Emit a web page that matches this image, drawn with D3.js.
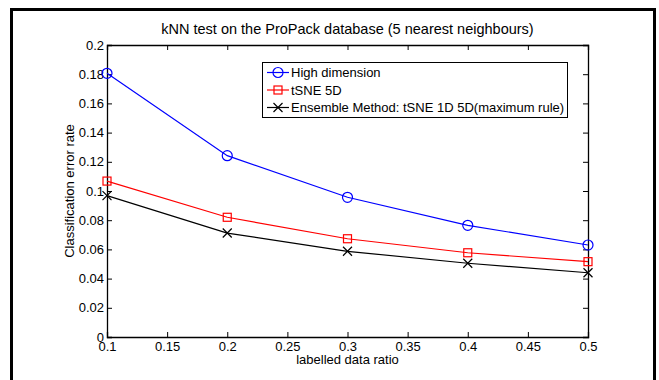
<!DOCTYPE html>
<html>
<head>
<meta charset="utf-8">
<script src="https://cdn.jsdelivr.net/npm/d3@7"></script>
<style>
  body { margin: 0; background: #fff; }
  text { font-family: "Liberation Sans", Arial, sans-serif; }
</style>
</head>
<body>
<div id="chart"></div>
<script>
// data
const ratios = [0.1, 0.2, 0.3, 0.4, 0.5];
const highDim = [0.1806, 0.1242, 0.0957, 0.0765, 0.0630];
const tsne5d = [0.1068, 0.0820, 0.0673, 0.0577, 0.0516];
const ensemble = [0.0968, 0.0712, 0.0587, 0.0505, 0.0440];
const xTicks = [0.1, 0.15, 0.2, 0.25, 0.3, 0.35, 0.4, 0.45, 0.5];
const yTicks = [0, 0.02, 0.04, 0.06, 0.08, 0.1, 0.12, 0.14, 0.16, 0.18, 0.2];

const series = [
    { name: "High dimension", values: highDim, color: "#0000ff", marker: "circle" },
    { name: "tSNE 5D", values: tsne5d, color: "#ff0000", marker: "square" },
    { name: "Ensemble Method: tSNE 1D 5D(maximum rule)", values: ensemble, color: "#000000", marker: "cross" }
];

const W = 659, H = 380;
const margin = { top: 45, right: 71, bottom: 43, left: 107 };
const width = W - margin.left - margin.right;
const height = H - margin.top - margin.bottom;
const fontSize = 13;

const svg = d3.select("#chart").append("svg")
    .attr("width", W)
    .attr("height", H);

// outer frame (no bottom edge in the reference)
svg.append("path")
    .attr("d", `M11.5,${H} V9.5 H654.5 V${H}`)
    .attr("fill", "none")
    .attr("stroke", "#000")
    .attr("stroke-width", 3);

const x = d3.scaleLinear().domain([0.1, 0.5]).range([0, width]);
const y = d3.scaleLinear().domain([0, 0.2]).range([height, 0]);

const g = svg.append("g")
    .attr("transform", `translate(${margin.left},${margin.top})`);

const fmt = d => String(+d.toFixed(2));

// axes, ticks point inward like matlab
const tickLen = 5;
g.append("g")
    .attr("transform", `translate(0,${height})`)
    .call(d3.axisBottom(x).tickValues(xTicks).tickSize(-tickLen).tickPadding(5).tickFormat(fmt));
g.append("g")
    .call(d3.axisTop(x).tickValues(xTicks).tickSize(-tickLen).tickFormat(""));
g.append("g")
    .call(d3.axisLeft(y).tickValues(yTicks).tickSize(-tickLen).tickPadding(3).tickFormat(fmt));
g.append("g")
    .attr("transform", `translate(${width},0)`)
    .call(d3.axisRight(y).tickValues(yTicks).tickSize(-tickLen).tickFormat(""));

g.selectAll(".domain").attr("stroke", "#000").attr("stroke-width", 1.3);
g.selectAll(".tick line").attr("stroke", "#000");
g.selectAll(".tick text").attr("font-size", fontSize).attr("fill", "#000")
    .attr("font-family", "Liberation Sans, Arial, sans-serif");

// lines
const line = d3.line()
    .x((d, i) => x(ratios[i]))
    .y(d => y(d));

function drawMarker(sel, type, color) {
    if (type === "circle") {
        sel.append("circle").attr("r", 5).attr("fill", "none").attr("stroke", color).attr("stroke-width", 1.2);
    } else if (type === "square") {
        sel.append("rect").attr("x", -4).attr("y", -4).attr("width", 8).attr("height", 8)
            .attr("fill", "none").attr("stroke", color).attr("stroke-width", 1.2);
    } else {
        sel.append("path").attr("d", "M-4.5,-4.5L4.5,4.5M-4.5,4.5L4.5,-4.5")
            .attr("stroke", color).attr("stroke-width", 1.2);
    }
}

series.forEach(s => {
    g.append("path")
        .datum(s.values)
        .attr("d", line)
        .attr("fill", "none")
        .attr("stroke", s.color)
        .attr("stroke-width", 1.2);
    g.selectAll(null)
        .data(s.values)
        .enter()
        .append("g")
        .attr("transform", (d, i) => `translate(${x(ratios[i])},${y(d)})`)
        .each(function () { drawMarker(d3.select(this), s.marker, s.color); });
});

// title and axis labels
svg.append("text")
    .attr("x", margin.left + width / 2)
    .attr("y", 34)
    .attr("text-anchor", "middle")
    .attr("font-size", 14.5)
    .text("kNN test on the ProPack database (5 nearest neighbours)");

svg.append("text")
    .attr("x", margin.left + width / 2)
    .attr("y", 364)
    .attr("text-anchor", "middle")
    .attr("font-size", fontSize)
    .text("labelled data ratio");

svg.append("text")
    .attr("transform", `translate(74,${margin.top + height / 2}) rotate(-90)`)
    .attr("text-anchor", "middle")
    .attr("font-size", fontSize)
    .text("Classification error rate");

// legend
const legend = svg.append("g").attr("transform", "translate(262,62)");
legend.append("rect")
    .attr("x", 0.5).attr("y", 0.5)
    .attr("width", 305).attr("height", 55)
    .attr("fill", "#fff")
    .attr("stroke", "#000")
    .attr("stroke-width", 1);

series.forEach((s, i) => {
    const row = legend.append("g").attr("transform", `translate(0,${10.5 + i * 17.5})`);
    row.append("line")
        .attr("x1", 5).attr("x2", 27)
        .attr("stroke", s.color).attr("stroke-width", 1.2);
    drawMarker(row.append("g").attr("transform", "translate(16,0)"), s.marker, s.color);
    row.append("text")
        .attr("x", 29)
        .attr("y", 4.5)
        .attr("font-size", fontSize)
        .text(s.name);
});
</script>
</body>
</html>
